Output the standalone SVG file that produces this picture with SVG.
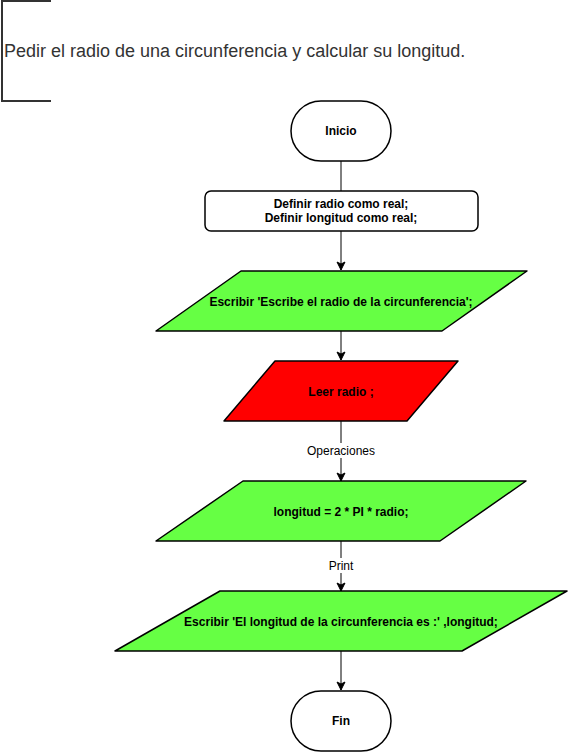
<svg xmlns="http://www.w3.org/2000/svg" width="571" height="752" viewBox="0 0 571 752">
<defs>
<style>
.n{stroke:#000;stroke-width:1.5;stroke-linejoin:round}
.t{font-family:"Liberation Sans",Arial,sans-serif;font-size:12px;font-weight:bold;fill:#000;text-anchor:middle}
.l{font-family:"Liberation Sans",Arial,sans-serif;font-size:12px;fill:#000;text-anchor:middle}
.c{stroke:#000;stroke-width:1;fill:none}
.g{fill:#66FF44}
</style>
<marker id="a" markerWidth="10" markerHeight="10" refX="9" refY="5" orient="auto" markerUnits="userSpaceOnUse">
<path d="M1,1 L9,5 L1,9 L3,5 Z" fill="#000" stroke="#000" stroke-width="1"/>
</marker>
</defs>
<rect width="571" height="752" fill="#fff"/>
<g id="note">
<path d="M51,1 H2 V101 H51" fill="none" stroke="#333" stroke-width="2"/>
<text x="4" y="57" font-family="Liberation Sans,Arial,sans-serif" font-size="18" fill="#333">Pedir el radio de una circunferencia y calcular su longitud.</text>
</g>
<g id="connectors">
<path class="c" d="M341,161 V191"/>
<path class="c" d="M341,231 V270" marker-end="url(#a)"/>
<path class="c" d="M341,331 V360" marker-end="url(#a)"/>
<path class="c" d="M341,421 V481" marker-end="url(#a)"/>
<path class="c" d="M341,541 V591" marker-end="url(#a)"/>
<path class="c" d="M341,651 V690" marker-end="url(#a)"/>
<rect x="306" y="443" width="70" height="15" fill="#fff"/>
<text class="l" x="341" y="455">Operaciones</text>
<rect x="326" y="558" width="30" height="15" fill="#fff"/>
<text class="l" x="341" y="570">Print</text>
</g>
<g id="inicio">
<rect class="n" x="291" y="101" width="100" height="60" rx="30" fill="#fff"/>
<text class="t" x="341" y="135">Inicio</text>
</g>
<g id="definir">
<rect class="n" x="205" y="191" width="273" height="40" rx="6" fill="#fff"/>
<text class="t" x="341" y="208">Definir radio como real;</text>
<text class="t" x="341" y="222">Definir longitud como real;</text>
</g>
<g id="escribir1">
<polygon class="n g" points="241,271 527,271 442,331 156,331"/>
<text class="t" x="341" y="306">Escribir 'Escribe el radio de la circunferencia';</text>
</g>
<g id="leer">
<polygon class="n" points="275,361 458,361 407,421 224,421" fill="#FF0000"/>
<text class="t" x="341" y="396">Leer radio ;</text>
</g>
<g id="operacion">
<polygon class="n g" points="243,481 526,481 440,541 156,541"/>
<text class="t" x="341" y="516">longitud = 2 * PI * radio;</text>
</g>
<g id="escribir2">
<polygon class="n g" points="220,591 567,591 462,651 115,651"/>
<text class="t" x="341" y="626">Escribir 'El longitud de la circunferencia es :' ,longitud;</text>
</g>
<g id="fin">
<rect class="n" x="291" y="691" width="100" height="60" rx="30" fill="#fff"/>
<text class="t" x="341" y="725">Fin</text>
</g>
</svg>
